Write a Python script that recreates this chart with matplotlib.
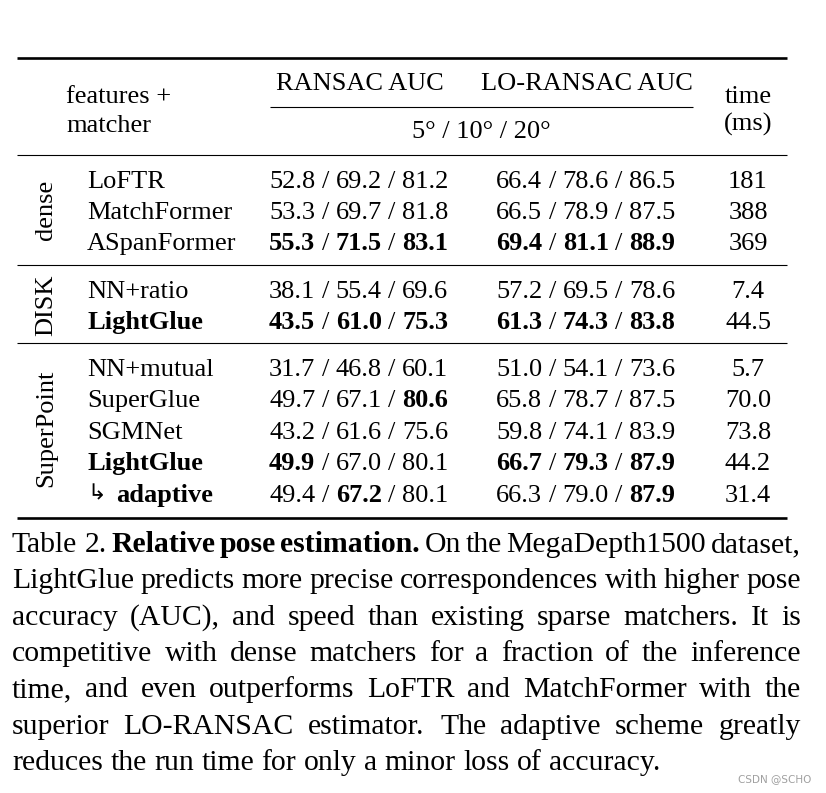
import matplotlib.pyplot as plt
from matplotlib.font_manager import FontProperties, findfont
from matplotlib.ft2font import FT2Font

# table data
groups = ["dense", "DISK", "SuperPoint"]
group_rows = [3, 2, 5]
methods = ["LoFTR", "MatchFormer", "ASpanFormer", "NN+ratio", "LightGlue",
           "NN+mutual", "SuperGlue", "SGMNet", "LightGlue", "adaptive"]
method_bold = [0, 0, 0, 0, 1, 0, 0, 0, 1, 1]
ransac = [[52.8, 69.2, 81.2], [53.3, 69.7, 81.8], [55.3, 71.5, 83.1],
          [38.1, 55.4, 69.6], [43.5, 61.0, 75.3],
          [31.7, 46.8, 60.1], [49.7, 67.1, 80.6], [43.2, 61.6, 75.6],
          [49.9, 67.0, 80.1], [49.4, 67.2, 80.1]]
ransac_bold = [[0, 0, 0], [0, 0, 0], [1, 1, 1],
               [0, 0, 0], [1, 1, 1],
               [0, 0, 0], [0, 0, 1], [0, 0, 0], [1, 0, 0], [0, 1, 0]]
lo_ransac = [[66.4, 78.6, 86.5], [66.5, 78.9, 87.5], [69.4, 81.1, 88.9],
             [57.2, 69.5, 78.6], [61.3, 74.3, 83.8],
             [51.0, 54.1, 73.6], [65.8, 78.7, 87.5], [59.8, 74.1, 83.9],
             [66.7, 79.3, 87.9], [66.3, 79.0, 87.9]]
lo_bold = [[0, 0, 0], [0, 0, 0], [1, 1, 1],
           [0, 0, 0], [1, 1, 1],
           [0, 0, 0], [0, 0, 0], [0, 0, 0], [1, 1, 1], [0, 0, 1]]
times = ["181", "388", "369", "7.4", "44.5", "5.7", "70.0", "73.8", "44.2", "31.4"]

caption = [
    [("Table", 0), ("2.", 0), ("Relative", 1), ("pose", 1), ("estimation.", 1),
     ("On", 0), ("the", 0), ("MegaDepth1500", 0), ("dataset,", 0)],
    "LightGlue predicts more precise correspondences with higher pose",
    "accuracy (AUC), and speed than existing sparse matchers. It is",
    "competitive with dense matchers for a fraction of the inference",
    "time, and even outperforms LoFTR and MatchFormer with the",
    "superior LO-RANSAC estimator. The adaptive scheme greatly",
    "reduces the run time for only a minor loss of accuracy.",
]

SERIF = "Liberation Serif"
TS = 19.0   # table font size
CS = 21.4   # caption font size
DPI = 100

fonts = {b: FT2Font(findfont(FontProperties(family=SERIF,
                                            weight="bold" if b else "normal")))
         for b in (0, 1)}


def adv(s, bold, size):
    f = fonts[int(bool(bold))]
    f.set_size(size, DPI)
    return sum(f.load_char(ord(c)).linearHoriAdvance / 65536 for c in s)


fig = plt.figure(figsize=(8.26, 7.93), dpi=DPI)
ax = fig.add_axes([0, 0, 1, 1])
ax.set_xlim(0, 826)
ax.set_ylim(793, 0)
ax.axis("off")


def put(x, y, s, bold=False, size=TS, ha="left"):
    ax.text(x, y, s, family=SERIF, fontsize=size, ha=ha, va="baseline",
            fontweight="bold" if bold else "normal", color="black")


def pen_put(p, y, s, bold=False, size=TS):
    put(p, y, s, bold, size)
    return p + adv(s, bold, size)


def cell(x, y, vals, bolds):
    sp = adv(" ", 0, TS)
    for i, (v, b) in enumerate(zip(vals, bolds)):
        x = pen_put(x, y, f"{v:.1f}", b)
        if i < len(vals) - 1:
            x = pen_put(x + sp, y, "/") + sp


# rules
ax.hlines(58, 17, 787, color="black", lw=1.9)
ax.hlines(107, 270, 693, color="black", lw=0.8)
for yy in [155, 265, 343]:
    ax.hlines(yy, 17, 787, color="black", lw=0.8)
ax.hlines(518, 17, 787, color="black", lw=1.9)

# header
put(66, 103, "features +")
put(66, 132, "matcher")
put(360, 90, "RANSAC AUC", ha="center")
put(587, 90, "LO-RANSAC AUC", ha="center")
put(481, 138, "5° / 10° / 20°", ha="center")
put(748, 103, "time", ha="center")
put(748, 131, "(ms)", ha="center")

# body
row_y = [188, 219, 250, 298, 329, 376, 407, 439, 470, 502]
group_y = [210, 305, 428]
for g, gy in zip(groups, group_y):
    ax.text(46, gy, g, family=SERIF, fontsize=TS, rotation=90,
            ha="center", va="center", color="black")

for i, y in enumerate(row_y):
    if methods[i] == "adaptive":
        ax.text(87, y - 3, "↳", family=["DejaVu Sans"], fontsize=16,
                va="baseline", color="black")
        pen_put(116, y, methods[i], method_bold[i])
    else:
        pen_put(87, y, methods[i], method_bold[i])
    cell(269, y, ransac[i], ransac_bold[i])
    cell(496, y, lo_ransac[i], lo_bold[i])
    put(748, y, times[i], ha="center")

# caption, justified
left, right = 12, 801
base = 552
step = 36.3
for k, line in enumerate(caption):
    if isinstance(line, str):
        words = [(w, 0) for w in line.split()]
    else:
        words = line
    ws = [adv(w, b, CS) for w, b in words]
    if k < len(caption) - 1:
        gap = (right - left - sum(ws)) / (len(words) - 1)
    else:
        gap = adv(" ", 0, CS)
    x = left
    y = base + k * step
    for (w, b), wd in zip(words, ws):
        pen_put(x, y, w, b, size=CS)
        x += wd + gap

# watermark
ax.text(811, 779, "CSDN @SCHO", family="DejaVu Sans", fontsize=7.5,
        color="#a0a0a0", ha="right", va="center")

fig.savefig("out.png", dpi=DPI)
